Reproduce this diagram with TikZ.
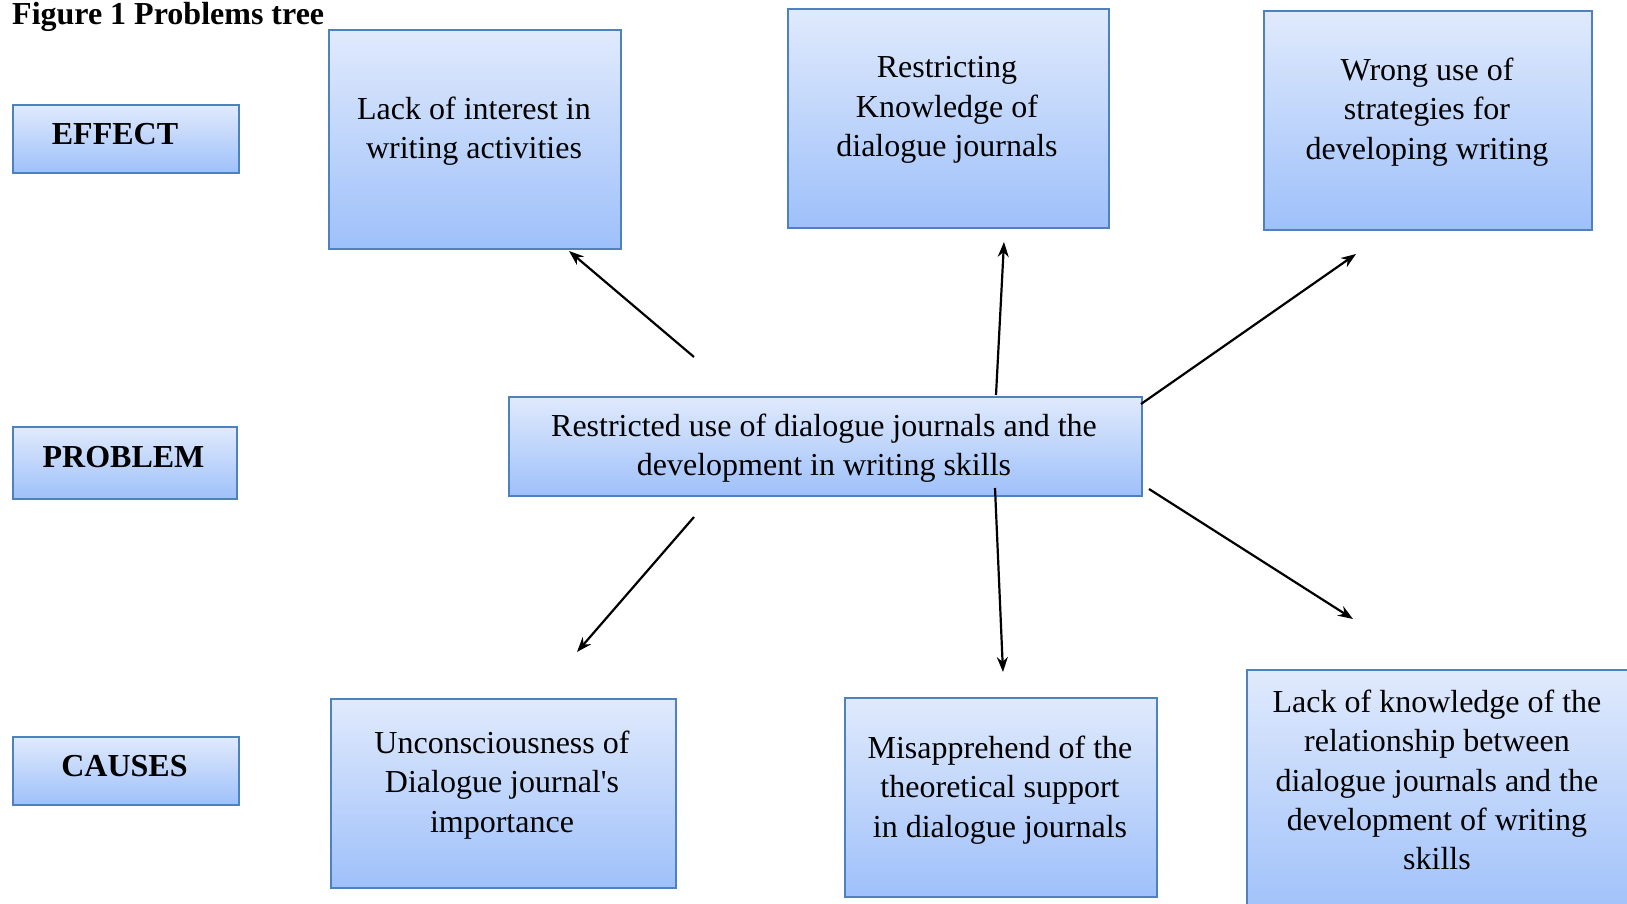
\documentclass[tikz,border=0pt]{standalone}
\usepackage{fontspec}
\setmainfont{Liberation Serif}[Ligatures=TeXOff]
\usetikzlibrary{arrows.meta}
\definecolor{boxline}{RGB}{79,129,189}
\definecolor{boxtop}{RGB}{224,234,252}
\definecolor{boxbot}{RGB}{158,192,250}
\tikzset{
  box/.style={draw=boxline, line width=2pt, top color=boxtop, bottom color=boxbot, inner sep=0pt, anchor=north west},
  txt/.style={font=\fontsize{32}{39.4}\selectfont, align=center, inner sep=0pt},
  lbl/.style={font=\fontsize{32}{38}\selectfont\bfseries, inner sep=0pt},
  arr/.style={line width=2.2pt, -{Stealth[length=15pt,width=11pt]}}
}
\begin{document}
\begin{tikzpicture}[x=1pt,y=-1pt]
\useasboundingbox (0,0) rectangle (1627,903);
\clip (0,0) rectangle (1627,903);
% title
\node[lbl, anchor=base west] (title) at (12,24) {Figure 1 Problems tree};
% left labels
\node[box, minimum width=226pt, minimum height=68pt] (effect) at (12,104) {};
\node[lbl] (effectT) at (115,134) {EFFECT};
\node[box, minimum width=224pt, minimum height=72pt] (problem) at (12,426) {};
\node[lbl] (problemT) at (123.5,457) {PROBLEM};
\node[box, minimum width=226pt, minimum height=68pt] (causes) at (12,736) {};
\node[lbl] (causesT) at (124.5,766) {CAUSES};
% effects
\node[box, minimum width=292pt, minimum height=219pt] (A) at (328,29) {};
\node[txt] (At) at (474,131) {Lack of interest in\\writing activities};
\node[box, minimum width=321pt, minimum height=219pt] (B) at (787,8) {};
\node[txt] (Bt) at (947,110) {Restricting\\Knowledge of\\dialogue journals};
\node[box, minimum width=328pt, minimum height=219pt] (C) at (1263,10) {};
\node[txt] (Ct) at (1427,112) {Wrong use of\\strategies for\\developing writing};
% problem
\node[box, minimum width=633pt, minimum height=99pt] (P) at (508,396) {};
\node[txt] (Pt) at (824,448) {Restricted use of dialogue journals and the\\development in writing skills};
% causes
\node[box, minimum width=345pt, minimum height=189pt] (D) at (330,698) {};
\node[txt] (Dt) at (502,785) {Unconsciousness of\\Dialogue journal's\\importance};
\node[box, minimum width=312pt, minimum height=199pt] (E) at (844,697) {};
\node[txt] (Et) at (1000,790) {Misapprehend of the\\theoretical support\\in dialogue journals};
\node[box, minimum width=382pt, minimum height=250pt] (F) at (1246,669) {};
\node[txt] (Ft) at (1437,780) {Lack of knowledge of the\\relationship between\\dialogue journals and the\\development of writing\\skills};
% arrow endpoints
\coordinate (a1s) at (694,357); \coordinate (a1e) at (569,251);
\coordinate (a2s) at (996,395); \coordinate (a2e) at (1004,242);
\coordinate (a3s) at (1141,404); \coordinate (a3e) at (1356,254);
\coordinate (a4s) at (694,517); \coordinate (a4e) at (577,652);
\coordinate (a5s) at (995,488); \coordinate (a5e) at (1003,672);
\coordinate (a6s) at (1149,489); \coordinate (a6e) at (1353,619);
\draw[arr] (a1s) -- (a1e);
\draw[arr] (a2s) -- (a2e);
\draw[arr] (a3s) -- (a3e);
\draw[arr] (a4s) -- (a4e);
\draw[arr] (a5s) -- (a5e);
\draw[arr] (a6s) -- (a6e);
\end{tikzpicture}
\end{document}
